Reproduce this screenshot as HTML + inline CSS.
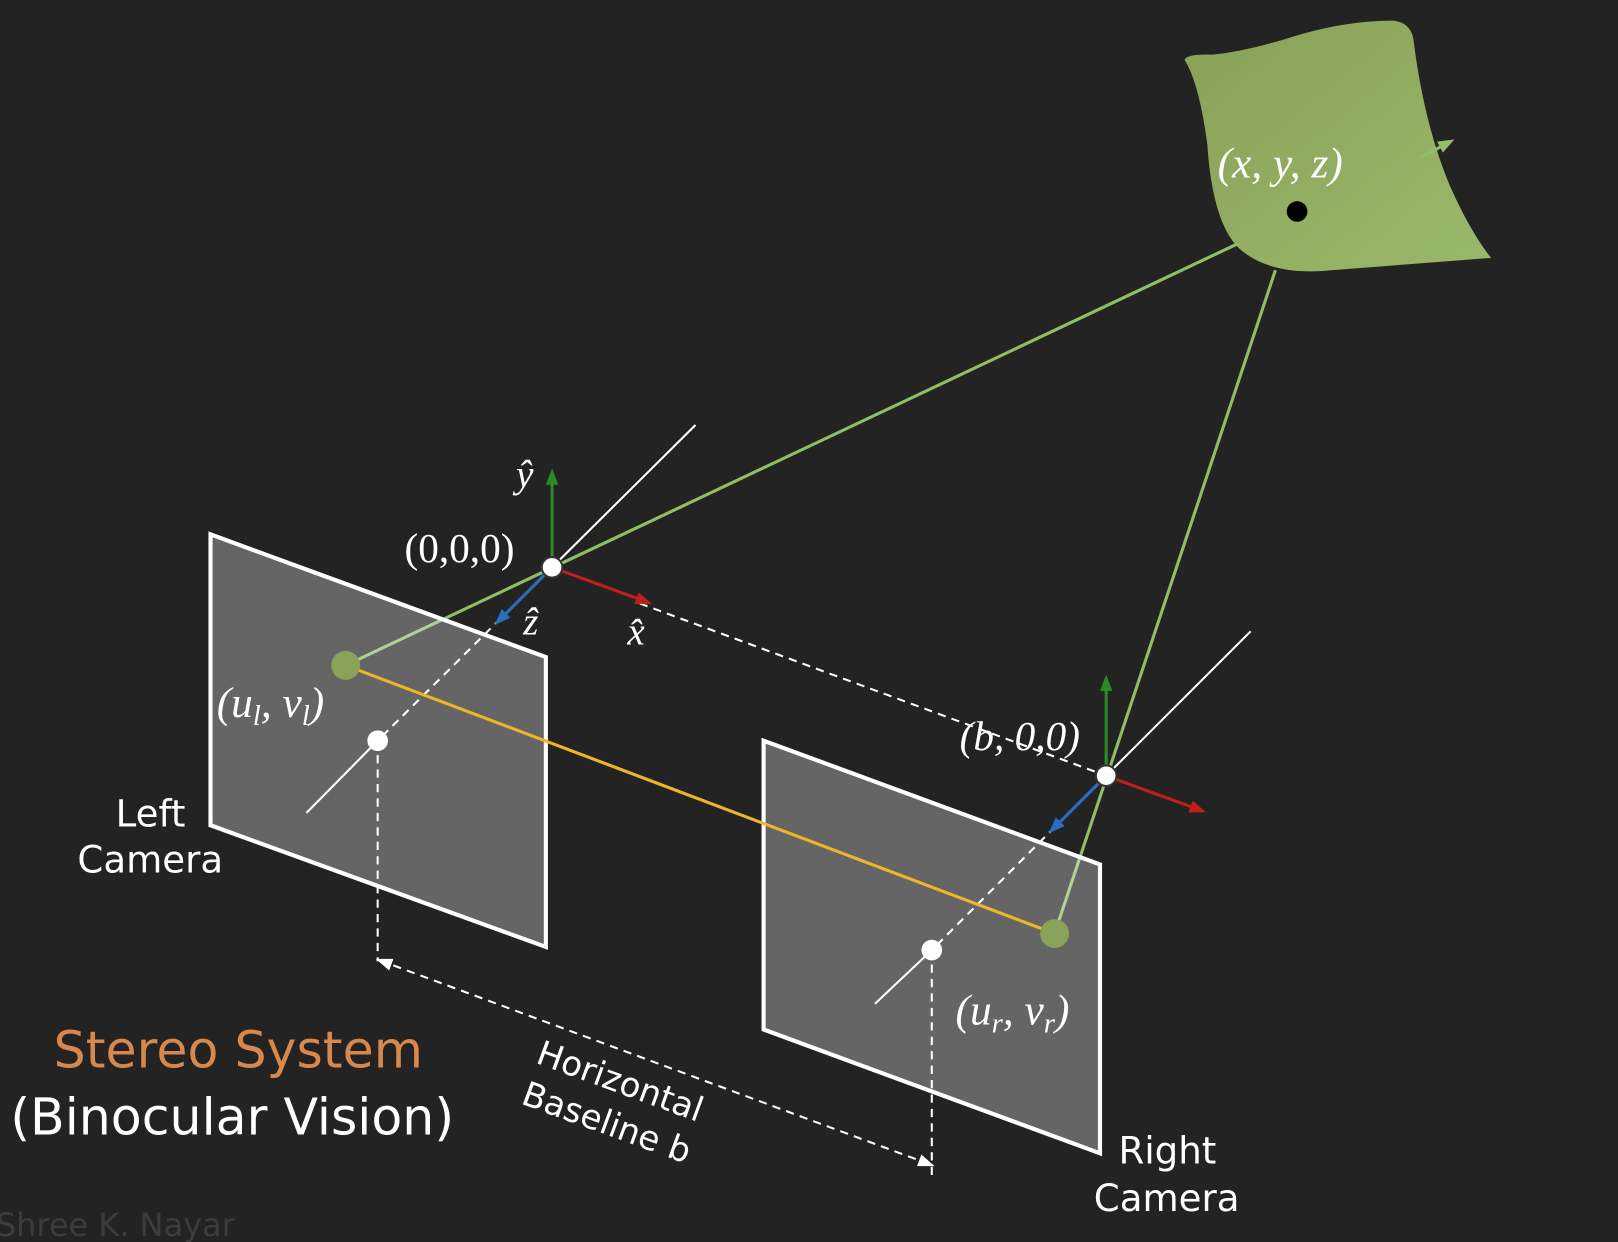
<!DOCTYPE html>
<html><head><meta charset="utf-8"><style>
html,body{margin:0;padding:0;background:#232323;}
svg{display:block}
.m{font-family:"Liberation Serif",serif;font-style:italic;fill:#fff;}
.s{font-family:"DejaVu Sans","Liberation Sans",sans-serif;fill:#fff;}
</style></head><body>
<svg width="1618" height="1242" viewBox="0 0 1568 1204" preserveAspectRatio="none" xmlns="http://www.w3.org/2000/svg">
<defs>
<marker id="ar" markerWidth="16" markerHeight="12" refX="12" refY="6" orient="auto" markerUnits="userSpaceOnUse"><path d="M0,0 L16,6 L0,12 z" fill="context-stroke"/></marker>
<marker id="ar2" markerWidth="16" markerHeight="12" refX="12" refY="6" orient="auto-start-reverse" markerUnits="userSpaceOnUse"><path d="M0,0 L16,6 L0,12 z" fill="#fff"/></marker>
<linearGradient id="sg" x1="0" y1="0" x2="1" y2="1"><stop offset="0" stop-color="#88a058"/><stop offset="1" stop-color="#9ab96a"/></linearGradient>
</defs>
<rect width="1568" height="1204" fill="#232323"/>
<path d="M1148,58 Q1150,52 1175,53 Q1205,50 1245,38 Q1300,20 1350,20 Q1368,22 1370,40 Q1380,120 1405,180 Q1425,225 1445,250 L1290,262 Q1230,268 1200,240 Q1175,215 1170,140 Q1162,80 1148,58 z" fill="url(#sg)"/>
<line x1="1376" y1="153" x2="1406" y2="137" stroke="#8dc065" stroke-width="3" marker-end="url(#ar)"/>
<text class="m" x="1180" y="172" font-size="42">(x, y, z)</text>
<circle cx="1257" cy="205" r="10" fill="#000"/>
<line x1="1200" y1="236" x2="335" y2="645" stroke="#8dc065" stroke-width="3"/>
<line x1="1236" y1="262" x2="1022" y2="905" stroke="#8dc065" stroke-width="3"/>
<polygon points="204,518 529,637 529,918 204,800" fill="rgba(255,255,255,0.3)" stroke="#fff" stroke-width="4"/>
<polygon points="740,718 1066,838 1066,1118 740,998" fill="rgba(255,255,255,0.3)" stroke="#fff" stroke-width="4"/>
<line x1="674" y1="412" x2="535" y2="550" stroke="#fff" stroke-width="2"/>
<line x1="535" y1="550" x2="366" y2="718" stroke="#fff" stroke-width="2" stroke-dasharray="8,6"/>
<line x1="366" y1="718" x2="297" y2="788" stroke="#fff" stroke-width="2"/>
<line x1="1212" y1="612" x2="1072" y2="752" stroke="#fff" stroke-width="2"/>
<line x1="1072" y1="752" x2="903" y2="921" stroke="#fff" stroke-width="2" stroke-dasharray="8,6"/>
<line x1="903" y1="921" x2="848" y2="973" stroke="#fff" stroke-width="2"/>
<line x1="620" y1="585" x2="1072" y2="752" stroke="#fff" stroke-width="2" stroke-dasharray="8,6"/>
<line x1="366" y1="718" x2="366" y2="932" stroke="#fff" stroke-width="2" stroke-dasharray="8,6"/>
<line x1="903" y1="921" x2="903" y2="1140" stroke="#fff" stroke-width="2" stroke-dasharray="8,6"/>
<line x1="368" y1="931" x2="902" y2="1129" stroke="#fff" stroke-width="2" stroke-dasharray="8,6" marker-start="url(#ar2)" marker-end="url(#ar2)"/>
<line x1="335" y1="645" x2="1022" y2="905" stroke="#f0b428" stroke-width="3"/>
<line x1="535" y1="550" x2="535" y2="458" stroke="#2e8a25" stroke-width="3" marker-end="url(#ar)"/>
<line x1="535" y1="550" x2="628" y2="584" stroke="#c0201c" stroke-width="3" marker-end="url(#ar)"/>
<line x1="535" y1="550" x2="482" y2="603" stroke="#2a6ec0" stroke-width="3" marker-end="url(#ar)"/>
<line x1="1072" y1="752" x2="1072" y2="658" stroke="#2e8a25" stroke-width="3" marker-end="url(#ar)"/>
<line x1="1072" y1="752" x2="1165" y2="786" stroke="#c0201c" stroke-width="3" marker-end="url(#ar)"/>
<line x1="1072" y1="752" x2="1019" y2="805" stroke="#2a6ec0" stroke-width="3" marker-end="url(#ar)"/>
<circle cx="535" cy="550" r="10" fill="#fff" stroke="#333" stroke-width="2"/>
<circle cx="1072" cy="752" r="10" fill="#fff" stroke="#333" stroke-width="2"/>
<circle cx="366" cy="718" r="10" fill="#fff"/>
<circle cx="903" cy="921" r="10" fill="#fff"/>
<circle cx="335" cy="645" r="14" fill="#8aa35a"/>
<circle cx="1022" cy="905" r="14" fill="#8aa35a"/>
<text class="m" x="500" y="472" font-size="38">ŷ</text>
<text class="m" x="507" y="615" font-size="38">ẑ</text>
<text class="m" x="608" y="625" font-size="38">x̂</text>
<text class="m" x="392" y="545" font-size="40" style="font-style:normal">(0,0,0)</text>
<text class="m" x="930" y="727" font-size="40">(b, 0,0)</text>
<text class="m" x="210" y="695" font-size="42">(u<tspan font-size="28" dy="8">l</tspan><tspan dy="-8">, v</tspan><tspan font-size="28" dy="8">l</tspan><tspan dy="-8">)</tspan></text>
<text class="m" x="926" y="993" font-size="42">(u<tspan font-size="28" dy="8">r</tspan><tspan dy="-8">, v</tspan><tspan font-size="28" dy="8">r</tspan><tspan dy="-8">)</tspan></text>
<text class="s" x="112" y="801" font-size="36">Left</text>
<text class="s" x="75" y="846" font-size="36">Camera</text>
<text class="s" x="1084" y="1128" font-size="36">Right</text>
<text class="s" x="1060" y="1174" font-size="36">Camera</text>
<g transform="translate(518,1030) rotate(20)">
<text class="s" x="0" y="0" font-size="33">Horizontal</text>
<text class="s" x="0" y="42" font-size="33">Baseline b</text>
</g>
<text x="52" y="1035" font-size="49" font-family="DejaVu Sans, sans-serif" fill="#d8884a">Stereo System</text>
<text class="s" x="10" y="1100" font-size="49" fill="#eee">(Binocular Vision)</text>
<text x="-4" y="1198" font-size="31" font-family="DejaVu Sans, sans-serif" fill="#3c3c3c">Shree K. Nayar</text>
</svg>
</body></html>
